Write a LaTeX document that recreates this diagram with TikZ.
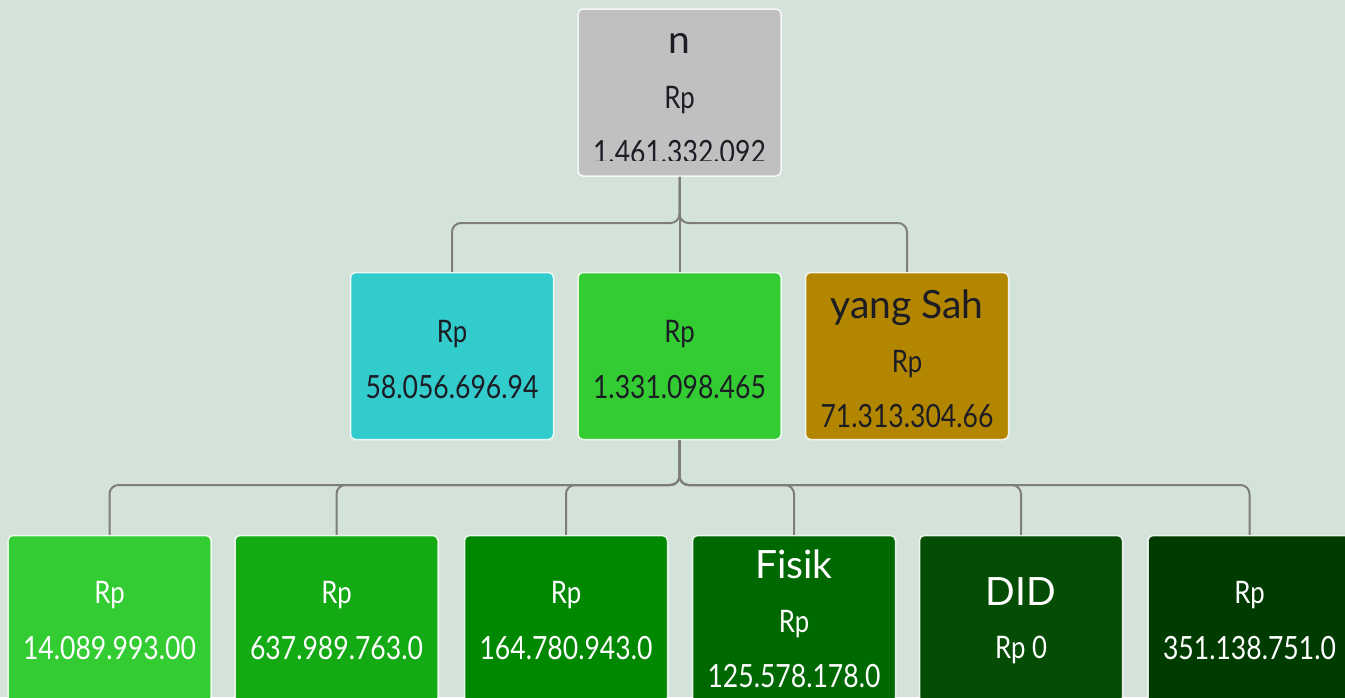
\documentclass[tikz,border=0pt]{standalone}
\usepackage{fontspec}
\setmainfont{Lato}[FakeStretch=0.83]
\newfontfamily\titlefont{Lato}
\definecolor{bgc}{RGB}{212,227,218}
\definecolor{boxgray}{RGB}{192,192,192}
\definecolor{boxblue}{RGB}{51,204,204}
\definecolor{boxgreen}{RGB}{51,204,51}
\definecolor{boxgold}{RGB}{179,134,0}
\definecolor{gA}{RGB}{51,204,51}
\definecolor{gB}{RGB}{20,170,20}
\definecolor{gC}{RGB}{0,136,0}
\definecolor{gD}{RGB}{0,104,0}
\definecolor{gE}{RGB}{5,77,5}
\definecolor{gF}{RGB}{0,60,0}
\definecolor{linegray}{RGB}{125,125,125}
\definecolor{darktxt}{RGB}{28,28,36}
\tikzset{
  box/.style={draw=white, draw opacity=0.85, line width=1.5pt, rounded corners=5pt,
    minimum width=203pt, minimum height=167pt, inner sep=0pt},
  conn/.style={draw=linegray, line width=2pt, rounded corners=9pt},
  ttl/.style={font=\titlefont\fontsize{39}{42}\selectfont, anchor=base, inner sep=0pt},
  rp/.style={font=\fontsize{31}{33}\selectfont, anchor=base, inner sep=0pt},
  amt/.style={font=\fontsize{32}{34}\selectfont, anchor=base, inner sep=0pt}
}
\begin{document}
\begin{tikzpicture}[x=1pt,y=-1pt]
\fill[bgc] (0,0) rectangle (1345,697);
\useasboundingbox (0,0) rectangle (1345,697);
\clip (0,0) rectangle (1345,697);

% boxes
\node[box, fill=boxgray] (top) at (679.5,92.5) {};
\node[box, fill=boxblue] (m1) at (452,356) {};
\node[box, fill=boxgreen] (m2) at (679.5,356) {};
\node[box, fill=boxgold] (m3) at (907,356) {};
\node[box, fill=gA] (b1) at (109.5,619) {};
\node[box, fill=gB] (b2) at (336.5,619) {};
\node[box, fill=gC] (b3) at (566,619) {};
\node[box, fill=gD] (b4) at (794,619) {};
\node[box, fill=gE] (b5) at (1021,619) {};
\node[box, fill=gF] (b6) at (1249.5,619) {};

% connector bars
\coordinate (bar1) at (0,223);
\coordinate (bar2) at (0,485);
\foreach \c in {m1,m2,m3}{
  \draw[conn] (top.south) -- (top.south |- bar1) -| (\c.north);
}
\foreach \c in {b1,b2,b3,b4,b5,b6}{
  \draw[conn] (m2.south) -- (m2.south |- bar2) -| (\c.north);
}

% texts
\begin{scope}
\clip[rounded corners=5pt] (top.north west) rectangle ([yshift=16pt]top.south east);
\node[ttl, text=darktxt] (ttop) at (679.5,53) {n};
\node[rp, text=darktxt] (rtop) at (679.5,108) {Rp};
\node[amt, text=darktxt] (atop) at (679.5,163) {1.461.332.092};
\end{scope}

\node[rp, text=darktxt] (rm1) at (452,342) {Rp};
\node[amt, text=darktxt] (am1) at (452,398) {58.056.696.94};
\node[rp, text=darktxt] (rm2) at (679.5,342) {Rp};
\node[amt, text=darktxt] (am2) at (679.5,398) {1.331.098.465};
\node[ttl, text=darktxt] (tm3) at (907,318) {yang Sah};
\node[rp, text=darktxt] (rm3) at (907,372) {Rp};
\node[amt, text=darktxt] (am3) at (907,427) {71.313.304.66};

\node[rp, text=white] (rb1) at (109.5,603) {Rp};
\node[amt, text=white] (ab1) at (109.5,659) {14.089.993.00};
\node[rp, text=white] (rb2) at (336.5,603) {Rp};
\node[amt, text=white] (ab2) at (336.5,659) {637.989.763.0};
\node[rp, text=white] (rb3) at (566,603) {Rp};
\node[amt, text=white] (ab3) at (566,659) {164.780.943.0};
\begin{scope}
\clip[rounded corners=5pt] (b4.north west) rectangle ([yshift=16pt]b4.south east);
\node[ttl, text=white] (tb4) at (794,578) {Fisik};
\node[rp, text=white] (rb4) at (794,632) {Rp};
\node[amt, text=white] (ab4) at (794,687) {125.578.178.0};
\end{scope}
\node[ttl, text=white] (tb5) at (1021,605) {DID};
\node[rp, text=white] (rb5) at (1021,658) {Rp 0};
\node[rp, text=white] (rb6) at (1249.5,603) {Rp};
\node[amt, text=white] (ab6) at (1249.5,659) {351.138.751.0};
\end{tikzpicture}
\end{document}
